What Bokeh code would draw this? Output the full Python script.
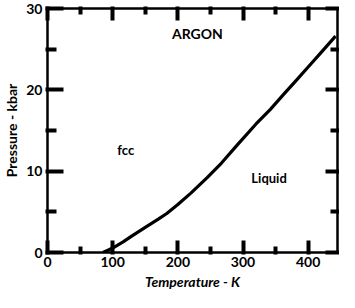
from bokeh.plotting import figure
from bokeh.models import Range1d, LinearAxis, Label, FixedTicker
from bokeh.embed import file_html
from bokeh.resources import INLINE

# Argon melting curve
temperature_K = [85, 93.5, 100, 116, 128, 150, 170, 183, 200, 220, 245, 267, 292, 320, 342, 364, 380, 400, 420, 442]
pressure_kbar = [0.0, 0.3, 0.55, 1.3, 1.95, 3.1, 4.1, 4.8, 5.9, 7.3, 9.2, 11.0, 13.3, 15.8, 17.6, 19.6, 21.0, 22.8, 24.6, 26.6]

x_ticks = [0, 100, 200, 300, 400]
x_minor = [50, 150, 250, 350]
y_ticks = [0, 10, 20, 30]
y_minor = [5, 15, 25]
x_max = 445
y_max = 30

FONT = "Lato"

p = figure(width=339, height=292, output_backend="svg", toolbar_location=None,
           x_range=Range1d(0, x_max), y_range=Range1d(0, y_max),
           min_border_left=45, min_border_right=2, min_border_top=8, min_border_bottom=37,
           x_axis_label="Temperature - K", y_axis_label="Pressure - kbar")
p.grid.visible = False
p.outline_line_color = None
p.background_fill_color = "white"
p.border_fill_color = "white"

p.line(temperature_K, pressure_kbar, line_color="black", line_width=3.2, line_join="round")

def style(ax, labels=True, tin=12, tmin=6):
    ax.axis_line_color = "black"
    ax.axis_line_width = 2.5
    ax.major_tick_line_color = "black"
    ax.minor_tick_line_color = "black"
    ax.major_tick_line_width = 4
    ax.minor_tick_line_width = 4
    ax.major_tick_in = tin
    ax.major_tick_out = 2
    ax.minor_tick_in = tmin
    ax.minor_tick_out = 2
    ax.major_label_text_font = FONT
    ax.major_label_text_font_style = "bold"
    ax.major_label_text_font_size = "14px"
    ax.major_label_text_color = "black"
    ax.axis_label_text_font = FONT
    ax.axis_label_text_font_style = "bold italic"
    ax.axis_label_text_font_size = "14px"
    ax.axis_label_text_color = "black"
    if not labels:
        ax.major_label_text_font_size = "0px"
        ax.major_label_text_color = None

p.xaxis.ticker = FixedTicker(ticks=x_ticks, minor_ticks=x_minor)
p.yaxis.ticker = FixedTicker(ticks=y_ticks, minor_ticks=y_minor)
for ax in p.xaxis:
    style(ax)
    ax.major_label_standoff = 2
    ax.axis_label_standoff = 3
for ax in p.yaxis:
    style(ax, tin=16, tmin=9)
    ax.axis_label_text_font_style = "bold"
    ax.major_label_standoff = 3
    ax.axis_label_standoff = 3

top = LinearAxis(ticker=FixedTicker(ticks=x_ticks, minor_ticks=x_minor))
style(top, labels=False)
p.add_layout(top, "above")
right = LinearAxis(ticker=FixedTicker(ticks=y_ticks, minor_ticks=y_minor))
style(right, labels=False, tin=12, tmin=7)
p.add_layout(right, "right")

for txt, x, y, size in [("ARGON", 230, 26.9, "14px"), ("fcc", 120, 12.6, "13px"), ("Liquid", 340, 9.1, "13px")]:
    p.add_layout(Label(x=x, y=y, text=txt, text_font=FONT, text_font_style="bold",
                       text_font_size=size, text_align="center", text_baseline="middle",
                       text_color="black"))

open("out.html", "w").write(file_html(p, INLINE))
